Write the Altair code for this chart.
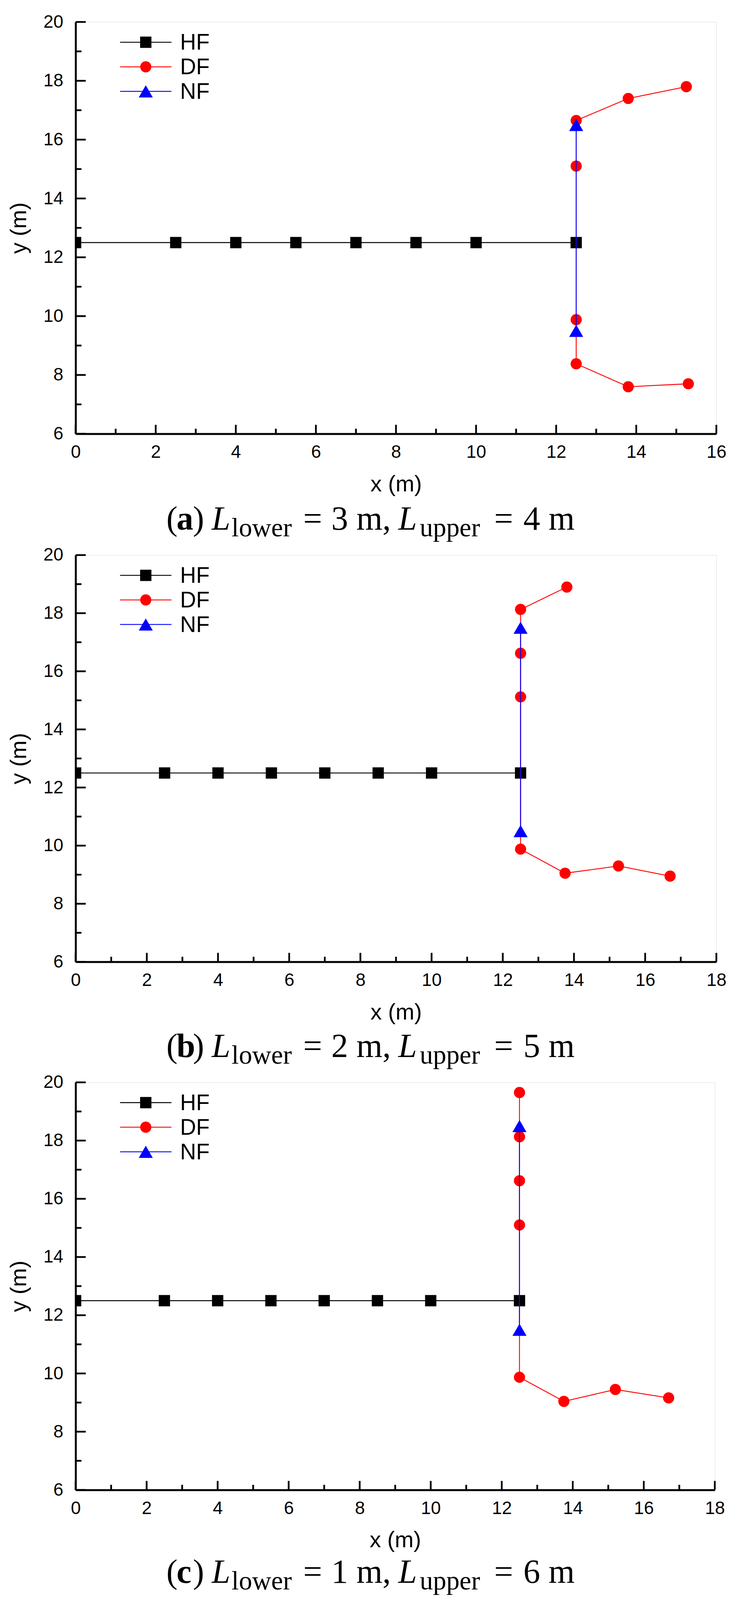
import altair as alt
import pandas as pd

# ---------------- data ----------------
HF_X = [0, 2.5, 4, 5.5, 7, 8.5, 10, 12.5]
HF_Y = [12.5, 12.5, 12.5, 12.5, 12.5, 12.5, 12.5, 12.5]

A_DF_X = [15.25, 13.8, 12.5, 12.5, 12.5, 12.5, 13.8, 15.3]
A_DF_Y = [17.8, 17.4, 16.65, 15.1, 9.88, 8.38, 7.6, 7.7]
A_NF_X = [12.5, 12.5]
A_NF_Y = [16.5, 9.5]

B_DF_X = [13.8, 12.5, 12.5, 12.5, 12.5, 13.75, 15.25, 16.7]
B_DF_Y = [18.9, 18.13, 16.62, 15.12, 9.88, 9.05, 9.3, 8.95]
B_NF_X = [12.5, 12.5]
B_NF_Y = [17.5, 10.5]

C_DF_X = [12.5, 12.5, 12.5, 12.5, 12.5, 13.75, 15.2, 16.7]
C_DF_Y = [19.65, 18.13, 16.62, 15.1, 9.87, 9.04, 9.45, 9.16]
C_NF_X = [12.5, 12.5]
C_NF_Y = [18.5, 11.5]

SERIES = ["HF", "DF", "NF"]
COLORS = ["#000000", "#FF0000", "#0000FF"]
SHAPES = ["square", "circle", "triangle-up"]
SIZES = [841, 820, 1300]

Y_MAJOR = [6, 8, 10, 12, 14, 16, 18, 20]
Y_MINOR = [7, 9, 11, 13, 15, 17, 19]

CAPTION_TAGS = ["a", "b", "c"]
CAPTION_LOWER = ["3", "2", "1"]
CAPTION_UPPER = ["4", "5", "6"]
CAPTION_DY = [246, 244, 238]

SANS = "Liberation Sans"
SERIF = "Liberation Serif"

PLOT_LEFT = 192  # page x of the plot area's left edge


def make_df(xs_list, ys_list):
    rows = []
    for name, xs, ys in zip(SERIES, xs_list, ys_list):
        for i, (x, y) in enumerate(zip(xs, ys)):
            rows.append({"s": name, "i": i, "x": x, "y": y})
    return pd.DataFrame(rows)


def panel(df, xmax, W, H, k):
    xs = alt.Scale(domain=[0, xmax], nice=False, zero=False)
    ys = alt.Scale(domain=[6, 20], nice=False, zero=False)
    common = dict(ticks=False, grid=False, domainColor="black", domainWidth=5,
                  labelFont=SANS, labelFontSize=46, labelColor="black",
                  titleFont=SANS, titleFontSize=58, titleFontWeight="normal",
                  titleColor="black", labelFlush=False, labelOverlap=False)
    ax = alt.Axis(values=list(range(0, xmax + 1, 2)), labelPadding=25,
                  titlePadding=31, **common)
    ay = alt.Axis(values=Y_MAJOR, labelPadding=32, titlePadding=32, **common)
    X = alt.X("x:Q", scale=xs, axis=ax, title="x (m)")
    Y = alt.Y("y:Q", scale=ys, axis=ay, title="y (m)")

    layers = []
    # inward ticks
    x_major = list(range(0, xmax + 1, 2))
    x_minor = list(range(1, xmax, 2))
    for vals, L in ((x_major, 23), (x_minor, 13)):
        layers.append(alt.Chart(pd.DataFrame({"x": vals})).mark_rule(
            color="black", strokeWidth=4.5).encode(
            x=X, y=alt.value(H), y2=alt.value(H - L)))
    for vals, L in ((Y_MAJOR, 26), (Y_MINOR, 15)):
        layers.append(alt.Chart(pd.DataFrame({"y": vals})).mark_rule(
            color="black", strokeWidth=4.5).encode(
            y=Y, x=alt.value(0), x2=alt.value(L)))

    # series
    for name, color, shape, size in zip(SERIES, COLORS, SHAPES, SIZES):
        d = df[df.s == name]
        base = alt.Chart(d)
        layers.append(base.mark_line(color=color, strokeWidth=2.3, clip=True).encode(
            x=X, y=Y, order="i:Q"))
        layers.append(base.mark_point(shape=shape, filled=True, color=color, size=size,
                                      opacity=1, clip=True).encode(x=X, y=Y))

    dummy = pd.DataFrame({"k": [0]})
    # legend
    for j, (name, color, shape, size) in enumerate(zip(SERIES, COLORS, SHAPES, SIZES)):
        ly = 52 + 63 * j
        b = alt.Chart(dummy)
        layers.append(b.mark_rule(color=color, strokeWidth=2.3).encode(
            x=alt.value(114), x2=alt.value(246), y=alt.value(ly)))
        layers.append(b.mark_point(shape=shape, filled=True, color=color, size=size,
                                   opacity=1).encode(x=alt.value(180), y=alt.value(ly)))
        layers.append(b.mark_text(text=name, align="left", baseline="middle",
                                  font=SANS, fontSize=57, color="black").encode(
            x=alt.value(268), y=alt.value(ly + 2)))

    # caption
    base_y = H + CAPTION_DY[k]
    sub_y = base_y + 17
    pieces = [
        ("(", 425, base_y, 86, "normal", "normal"),
        (CAPTION_TAGS[k], 451, base_y, 86, "normal", "bold"),
        (")", 493, base_y, 86, "normal", "normal"),
        ("L", 541, base_y, 86, "italic", "normal"),
        ("lower", 592, sub_y, 68, "normal", "normal"),
        ("=", 776, base_y, 86, "normal", "normal"),
        (CAPTION_LOWER[k] + " m,", 848, base_y, 86, "normal", "normal"),
        ("L", 1020, base_y, 86, "italic", "normal"),
        ("upper", 1075, sub_y, 68, "normal", "normal"),
        ("=", 1266, base_y, 86, "normal", "normal"),
        (CAPTION_UPPER[k] + " m", 1341, base_y, 86, "normal", "normal"),
    ]
    for txt, px, py, fs, style, weight in pieces:
        layers.append(alt.Chart(dummy).mark_text(
            text=txt, align="left", baseline="alphabetic", font=SERIF,
            fontSize=fs, fontStyle=style, fontWeight=weight, color="black").encode(
            x=alt.value(px - PLOT_LEFT), y=alt.value(py)))

    return alt.layer(*layers).properties(width=W, height=H)


pa = panel(make_df([HF_X, A_DF_X, A_NF_X], [HF_Y, A_DF_Y, A_NF_Y]), 16, 1644, 1056, 0)
pb = panel(make_df([HF_X, B_DF_X, B_NF_X], [HF_Y, B_DF_Y, B_NF_Y]), 18, 1644, 1043, 1)
pc = panel(make_df([HF_X, C_DF_X, C_NF_X], [HF_Y, C_DF_Y, C_NF_Y]), 18, 1640, 1045, 2)

chart = alt.vconcat(pa, pb, pc, spacing=9).properties(
    padding={"left": 12, "top": 21, "right": 0, "bottom": 0}
).configure_view(stroke=None).configure(background="white")

chart.save("out.html", embed_options={"renderer": "svg", "actions": False})
